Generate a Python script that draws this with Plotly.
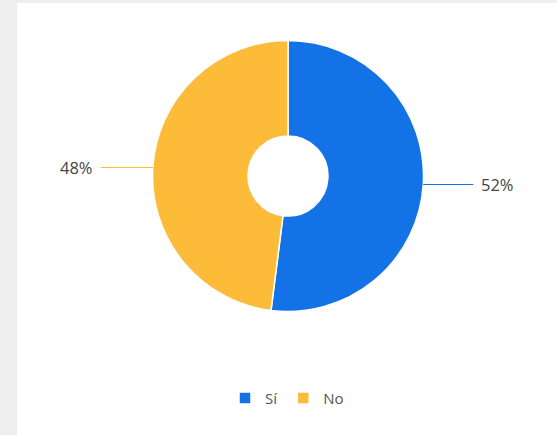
import math
import plotly.graph_objects as go

labels = ["Sí", "No"]
values = [52, 48]
colors = ["#1373E6", "#FDBB3A"]

W, H = 557, 435
ML, MT = 17, 3
PW, PH = W - ML, H - MT

# pie geometry (pixel layout)
cx_px, cy_px, r_px = 288, 176, 135.5
dom_x = [(cx_px - r_px - ML) / PW, (cx_px + r_px - ML) / PW]
dom_y = [(H - (cy_px + r_px)) / PH, (H - (cy_px - r_px)) / PH]

fig = go.Figure()
fig.add_trace(go.Pie(
    labels=labels, values=values, sort=False, direction="clockwise", rotation=0,
    hole=0.295, textinfo="none", hoverinfo="label+percent",
    marker=dict(colors=colors, line=dict(color="white", width=1.5)),
    domain=dict(x=dom_x, y=dom_y),
))

# leader labels computed from data
total = sum(values)
cum = 0
annotations = []
for lab, v, c in zip(labels, values, colors):
    mid = (cum + v / 2) / total * 2 * math.pi
    cum += v
    px = cx_px + r_px * math.sin(mid)
    py = cy_px - r_px * math.cos(mid)
    right = math.sin(mid) >= 0
    annotations.append(dict(
        x=(px - ML) / PW, y=(H - py) / PH, xref="paper", yref="paper",
        text=f"{round(v / total * 100)}%", showarrow=True, arrowhead=0,
        arrowwidth=1.2, arrowcolor=c, standoff=0, borderpad=7,
        ax=74 if right else -76, ay=0,
        font=dict(size=16.5, color="#444444", family="Open Sans"),
    ))

fig.update_layout(
    width=W, height=H,
    margin=dict(l=ML, r=0, t=MT, b=0),
    paper_bgcolor="#EEEEEE",
    showlegend=True,
    legend=dict(orientation="h", x=0.5, xanchor="center", y=0.085, yanchor="middle",
                bgcolor="rgba(0,0,0,0)",
                font=dict(size=15, color="#555555", family="Open Sans"),
                itemwidth=30, tracegroupgap=0),
    shapes=[dict(type="rect", xref="paper", yref="paper", x0=0, x1=1, y0=0, y1=1,
                 fillcolor="white", line=dict(width=0), layer="below")],
    annotations=annotations,
)

fig.write_html("out.html")
